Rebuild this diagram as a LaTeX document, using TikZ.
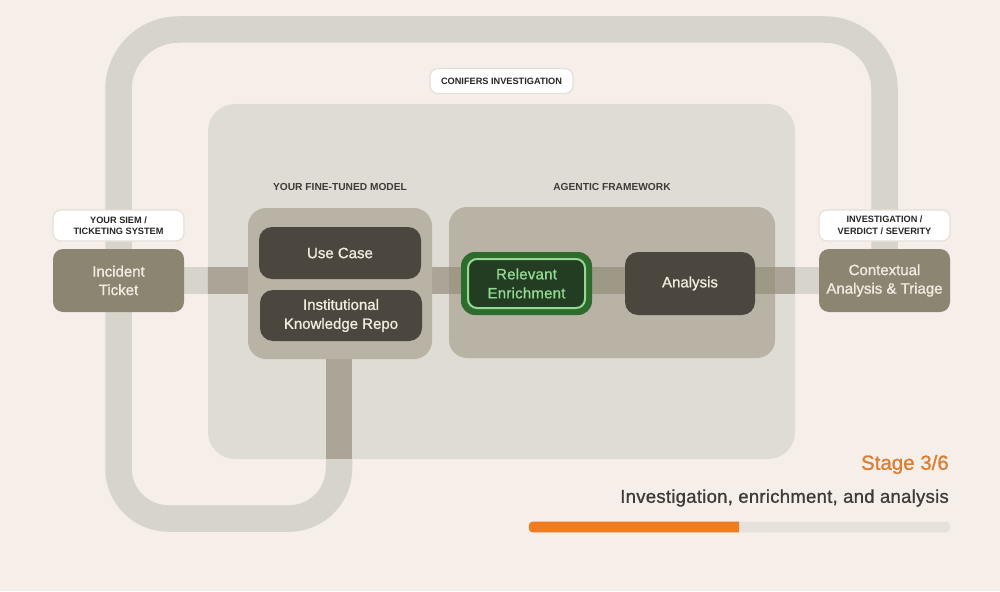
\documentclass[tikz,border=0pt]{standalone}
\usepackage{fontspec}
\setmainfont{Liberation Sans}
\newfontfamily\midfont[FakeBold=1]{Liberation Sans}
\newfontfamily\midwidefont[FakeBold=1,LetterSpace=1.5]{Liberation Sans}
\usepackage{tikz}
\usetikzlibrary{positioning}

\definecolor{pagebg}{HTML}{F6EEE9}
\definecolor{pipeout}{HTML}{D7D4CC}
\definecolor{pipein}{HTML}{ABA497}
\definecolor{pipebox}{HTML}{9E9887}
\definecolor{panelbg}{HTML}{DFDCD5}
\definecolor{groupbg}{HTML}{B8B3A5}
\definecolor{darkbox}{HTML}{4B473F}
\definecolor{endbox}{HTML}{8B8572}
\definecolor{boxtext}{HTML}{F1ECE2}
\definecolor{capedge}{HTML}{E4E0D8}
\definecolor{haloedge}{HTML}{2E6B2D}
\definecolor{enrichbg}{HTML}{233D22}
\definecolor{enrichline}{HTML}{94D994}
\definecolor{stagetext}{HTML}{DC7E30}
\definecolor{stagebar}{HTML}{F07C20}
\definecolor{bartrack}{HTML}{E6E2DB}
\definecolor{inktext}{HTML}{3F3B36}

\pgfdeclarelayer{lightpipes}
\pgfdeclarelayer{panels}
\pgfdeclarelayer{midpipes}
\pgfdeclarelayer{groups}
\pgfdeclarelayer{darkpipes}
\pgfsetlayers{lightpipes,panels,midpipes,groups,darkpipes,main}

\tikzset{
  flatbox/.style={shape=rectangle,inner sep=0pt,align=center},
  darknode/.style={flatbox,fill=darkbox,text=boxtext,rounded corners=13pt,font=\midfont\fontsize{15}{19}\selectfont},
  endnode/.style={flatbox,fill=endbox,text=boxtext,rounded corners=10pt,minimum width=131pt,minimum height=63pt,font=\midfont\fontsize{15}{18.5}\selectfont},
  capnode/.style={flatbox,fill=white,draw=capedge,line width=1.2pt,rounded corners=8pt,text=black!85,font=\bfseries\fontsize{9.2}{11.5}\selectfont},
  headnode/.style={flatbox,text=inktext,font=\bfseries\fontsize{10.2}{11}\selectfont},
  pipe/.style={line width=26.5pt,line cap=butt},
}

\begin{document}
\begin{tikzpicture}[x=1pt,y=-1pt]
    \useasboundingbox (0,0) rectangle (1000,591);

    % outer boxes
    \node[endnode] (ticket) at (118.5,280.5) {Incident\\Ticket};
    \node[endnode] (triage) at (884.5,280.5) {Contextual\\Analysis \& Triage};
    \node[capnode,minimum width=131pt,minimum height=31pt] (ticketcap) at (118.5,225.5) {YOUR SIEM /\\TICKETING SYSTEM};
    \node[capnode,minimum width=131pt,minimum height=31pt] (triagecap) at (884.5,225.5) {INVESTIGATION /\\VERDICT / SEVERITY};

    \begin{pgfonlayer}{panels}
      \node[flatbox,fill=panelbg,rounded corners=27pt,minimum width=587pt,minimum height=355pt] (panel) at (501.5,281.5) {};
    \end{pgfonlayer}
    \node[capnode,minimum width=143pt,minimum height=25pt] (panelcap) at (501.5,81) {CONIFERS INVESTIGATION};

    % the two groups
    \begin{pgfonlayer}{groups}
      \node[flatbox,fill=groupbg,rounded corners=18pt,minimum width=184pt,minimum height=151pt] (model) at (340,283.5) {};
      \node[flatbox,fill=groupbg,rounded corners=18pt,minimum width=326pt,minimum height=151pt] (framework) at (612,282.5) {};
    \end{pgfonlayer}
    \node[headnode] (modelhead) at (340,186.5) {YOUR FINE-TUNED MODEL};
    \node[headnode] (frameworkhead) at (612,186.5) {AGENTIC FRAMEWORK};

    \node[darknode,minimum width=162pt,minimum height=52pt] (usecase) at (340,253) {Use Case};
    \node[darknode,minimum width=162pt,minimum height=51pt] (repo) at (341,315.5) {Institutional\\Knowledge Repo};
    \node[darknode,minimum width=130pt,minimum height=63pt] (analysis) at (690,283.5) {Analysis};

    \node[flatbox,fill=haloedge,rounded corners=14pt,minimum width=131pt,minimum height=63pt] (halo) at (526.5,283.5) {};
    \node[flatbox,fill=enrichbg,draw=enrichline,line width=2pt,rounded corners=9pt,minimum width=117pt,minimum height=49pt,text=enrichline,font=\midwidefont\fontsize{15}{19}\selectfont] (enrich) at (526.5,283.5) {Relevant\\Enrichment};

    % pipes
    \begin{pgfonlayer}{lightpipes}
      \fill[pagebg] (0,0) rectangle (1000,591);
      \draw[pipe,draw=pipeout,rounded corners=60pt] (ticket.north) -- (ticket.north |- 0,29.5) -- (triage.north |- 0,29.5) -- (triage.north);
      \draw[pipe,draw=pipeout,rounded corners=50pt] (ticket.south) -- (ticket.south |- 0,518.5) -- ([xshift=-1pt]model.south |- 0,518.5) -- ([xshift=-1pt]model.south);
      \draw[pipe,draw=pipeout] (ticket.center) -- (model.center |- ticket.center);
      \draw[pipe,draw=pipeout] (triage.center) -- (analysis.center |- triage.center);
    \end{pgfonlayer}
    \begin{pgfonlayer}{midpipes}
      \begin{scope}
        \clip (panel.north west) rectangle (panel.south east);
        \draw[pipe,draw=pipein] ([xshift=-1pt]model.south) -- ([xshift=-1pt]model.south |- panel.south);
        \draw[pipe,draw=pipein] (ticket.center) -- (framework.west |- ticket.center);
        \draw[pipe,draw=pipein] (triage.center) -- (analysis.center |- triage.center);
      \end{scope}
    \end{pgfonlayer}
    \begin{pgfonlayer}{darkpipes}
      \draw[pipe,draw=pipebox] (framework.west |- ticket.center) -- (analysis.center |- ticket.center);
      \draw[pipe,draw=pipebox] (analysis.center |- triage.center) -- (framework.east |- triage.center);
    \end{pgfonlayer}

    % stage block
    \node[flatbox,anchor=east,text=stagetext,font=\midfont\fontsize{20.5}{24}\selectfont] (stage) at (949,464.5) {Stage 3/6};
    \node[flatbox,anchor=east,text=inktext,font=\midwidefont\fontsize{18.5}{21}\selectfont] (stagename) at (949,498) {Investigation, enrichment, and analysis};
    \node[flatbox,fill=bartrack,rounded corners=4pt,minimum width=421pt,minimum height=10.5pt] (track) at (739.5,527) {};
    \fill[stagebar,rounded corners=4pt] (track.north west) [sharp corners] -- (739,0 |- track.north) -- (739,0 |- track.south) [rounded corners=4pt] -- (track.south west) -- cycle;
  \end{tikzpicture}
\end{document}
